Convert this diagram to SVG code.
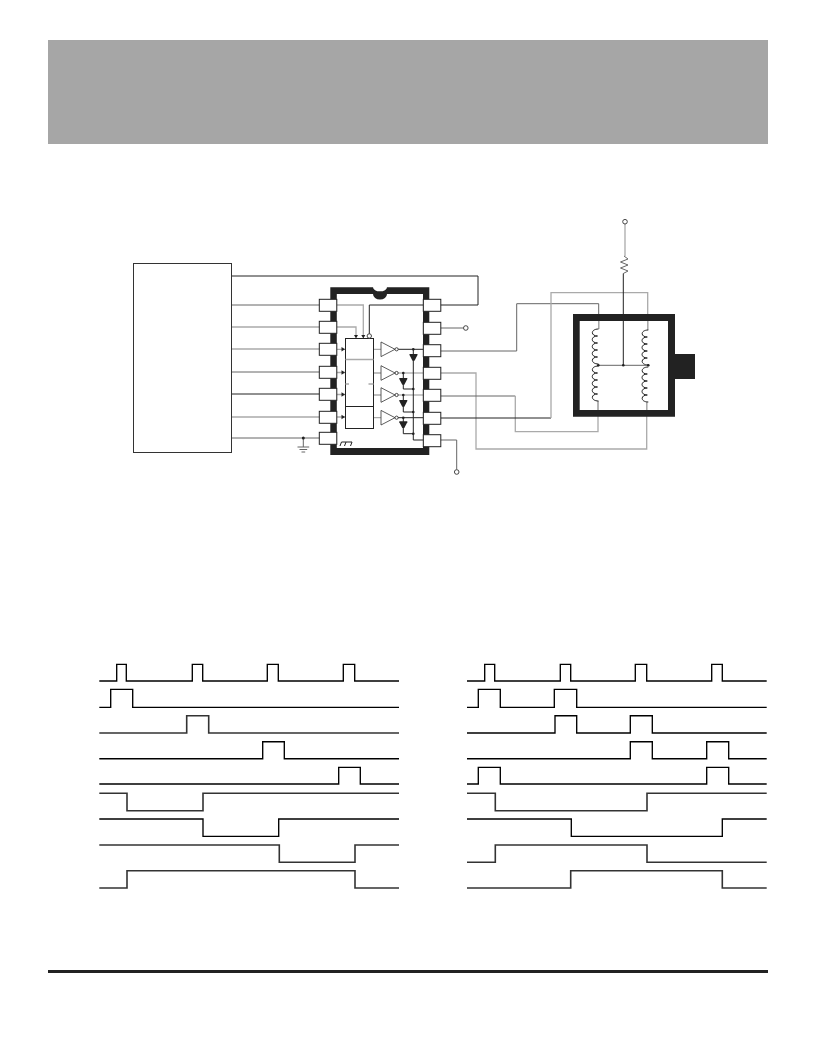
<svg xmlns="http://www.w3.org/2000/svg" width="816" height="1056" viewBox="0 0 816 1056">
<style>
.w{fill:none;stroke:#222;stroke-width:1}
.g{fill:none;stroke:#aaa;stroke-width:1.3}
.m{fill:none;stroke:#666;stroke-width:1}
.t{fill:none;stroke:#000;stroke-width:1.35}
.tg{fill:none;stroke:#333;stroke-width:1.6}
.pin{fill:#fff;stroke:#222;stroke-width:1}
.o{fill:#fff;stroke:#333;stroke-width:.9}
.d{fill:#222}
.k{fill:#222;stroke:none}
.inv{fill:#fff;stroke:#333;stroke-width:.8}
</style>
<defs>
<g id="diode"><path class="k" d="M-4 -3.500H4V-2.400L1 3.300H-1L-4 -2.400Z"/></g>
<g id="inverter"><path class="inv" d="M0 -7.300L14 0L0 7.300Z"/><circle class="o" cx="15.600" cy="0" r="1.600"/></g>
<path id="coil" class="w" d="M0 0c-8 0-8 7-1 7c-7 0-7 7 0 7c-7 0-7 7 0 7c-7 0-7 7 0 7c-7 0-7 7 1 7"/>
<path id="arrowIn" class="k" d="M-2.500 -2.200L1 0L-2.500 2.200Z"/>
</defs>
<g id="banner"><rect x="48" y="40" width="720" height="104" fill="#a6a6a6"/></g>
<g id="footer-rule"><rect x="48" y="970" width="720" height="3" fill="#222"/></g>

<g id="connectors">
<path class="w" d="M232 276H478V305H440"/>
<path class="m" d="M232 305H320"/>
<path class="g" d="M232 327H320"/>
<path class="g" d="M232 349H320"/>
<path class="m" d="M232 372H320"/>
<path class="w" d="M232 394H320"/>
<path class="g" d="M232 417H320"/>
<path class="m" d="M232 438H320"/>
<path class="g" d="M337 305H363.300V336"/>
<path class="g" d="M337 327H356V336"/>
<path class="w" d="M423 305H369.300V334"/>
<path class="g" d="M337 349.300H345M337 372.500H345M337 394.500H345M337 417H345"/>
<path class="g" d="M373.300 349.300H381M373.300 373H381M373.300 395H381M373.300 417.700H381"/>
<path class="w" d="M398 349.300H423"/>
<path class="g" d="M398 373H423"/>
<path class="g" d="M398 395H423"/>
<path class="w" d="M398 417.700H423"/>
<path class="w" d="M413.300 349.300V440H423"/>
<path class="w" d="M403.300 373V389H413.300M403.300 395V412H413.300M403.300 417.700V433.700H413.300"/>
<path class="m" d="M440 328H463.500"/>
<path class="m" d="M440 440H456.700V469.500"/>
<path class="m" d="M440 351H516.700V303.700H598.700V329"/>
<path class="g" d="M440 373H476V449H646.700V402"/>
<path class="m" d="M440 396H515.300"/>
<path class="g" d="M515.300 396V431.700H598V401"/>
<path class="w" d="M440 418H551"/>
<path class="g" d="M551 418V292.700H647.700V330"/>
<path class="g" d="M625 224V256"/>
<path class="m" d="M624 256L628 259L620.500 262L628 265L620.500 268L628 271L623.300 273.500"/>
<path class="w" d="M623.300 273.500V314"/>
</g>

<g id="controller"><rect x="133.500" y="263.500" width="98" height="189" fill="#fff" stroke="#333"/></g>

<g id="ic">
<path class="k" fill-rule="evenodd" d="M330.300 287.300H373A7 4 0 0 0 387 287.300H429.300V455H330.300ZM336.800 294H373A7 5.500 0 0 0 387 294H423V448H336.800Z"/>
<g>
<rect class="pin" x="319.300" y="299.300" width="17.500" height="12"/>
<rect class="pin" x="319.300" y="321.300" width="17.500" height="12"/>
<rect class="pin" x="319.300" y="343.300" width="17.500" height="12"/>
<rect class="pin" x="319.300" y="366.300" width="17.500" height="12"/>
<rect class="pin" x="319.300" y="388.300" width="17.500" height="12"/>
<rect class="pin" x="319.300" y="411.300" width="17.500" height="12"/>
<rect class="pin" x="319.300" y="432.300" width="17.500" height="12"/>
<rect class="pin" x="423.300" y="299.300" width="17.500" height="12"/>
<rect class="pin" x="423.300" y="322.300" width="17.500" height="12"/>
<rect class="pin" x="423.300" y="344.700" width="17.500" height="12"/>
<rect class="pin" x="423.300" y="367.300" width="17.500" height="12"/>
<rect class="pin" x="423.300" y="389.300" width="17.500" height="12"/>
<rect class="pin" x="423.300" y="412.300" width="17.500" height="12"/>
<rect class="pin" x="423.300" y="434.700" width="17.500" height="12"/>
</g>
<rect x="345.500" y="338.500" width="28" height="90" fill="#fff" stroke="#222"/>
<path class="w" d="M345.500 406.500H373.500"/>
<path class="g" d="M345.500 359.500H373.500M345.500 384H349M368.500 384H373.500"/>
<use href="#arrowIn" x="344" y="349.300"/><use href="#arrowIn" x="344" y="372.500"/><use href="#arrowIn" x="344" y="394.500"/><use href="#arrowIn" x="344" y="417"/>
<path class="k" d="M354 335H358L356 338.500ZM361.300 335H365.300L363.300 338.500Z"/>
<circle class="o" cx="369.300" cy="336" r="2.200"/>
<use href="#inverter" x="381" y="349.300"/><use href="#inverter" x="381" y="373"/><use href="#inverter" x="381" y="395"/><use href="#inverter" x="381" y="417.700"/>
<use href="#diode" x="413.500" y="357.500"/><use href="#diode" x="403.300" y="381.500"/><use href="#diode" x="403.300" y="403.500"/><use href="#diode" x="403.300" y="424.700"/>
<g class="d"><circle cx="413.300" cy="349.300" r="1.300"/><circle cx="403.300" cy="373" r="1.300"/><circle cx="403.300" cy="395" r="1.300"/><circle cx="403.300" cy="417.700" r="1.300"/><circle cx="413.300" cy="389" r="1.300"/><circle cx="413.300" cy="412" r="1.300"/><circle cx="413.300" cy="433.700" r="1.300"/></g>
<path class="w" d="M340 446L341.500 442H346L344.500 446M346 442H352L350.500 446"/>
</g>

<g id="ground"><path class="m" d="M303.300 438V447M297.500 447H309.200M299.500 449.500H307.200M301.500 452H305.200"/><circle class="d" cx="303.300" cy="438" r="1.500"/></g>
<g id="terminal-vcc1"><circle class="o" cx="465.800" cy="328" r="2.300"/></g>
<g id="terminal-vcc2"><circle class="o" cx="456.700" cy="472" r="2.300"/></g>
<g id="terminal-vm"><circle class="o" cx="625" cy="221.700" r="2.300"/></g>

<g id="motor">
<path class="k" fill-rule="evenodd" d="M573 314H675V354H695V379H675V416.700H573ZM579.700 321V410H668V321Z"/>
<path class="g" d="M598.700 321V329M647.700 321V330M598 401V410M646.700 402V410"/>
<use href="#coil" x="598.500" y="329"/><use href="#coil" x="598.500" y="366"/>
<use href="#coil" x="648.300" y="330"/><use href="#coil" x="648.300" y="367"/>
<path class="m" d="M598.300 365.300H648.300"/>
<path class="w" d="M623.300 321V365.300"/>
<g class="d"><circle cx="598.300" cy="365.300" r="1.300"/><circle cx="623.300" cy="365.300" r="1.300"/><circle cx="648.300" cy="365.300" r="1.300"/></g>
</g>

<g id="timing-left">
<path class="t" d="M99.300 681H116.700V664.300H126.300V681H192.300V664.300H202.700V681H267.300V664.300H278.300V681H343.300V664.300H354.700V681H399"/>
<path class="t" d="M99.300 707.300H110.700V689.300H132.700V707.300H399"/>
<path class="tg" d="M99.300 733H186.700V715.700H208.700V733H399"/>
<path class="t" d="M99.300 758.700H262.700V741.700H284.300V758.700H399"/>
<path class="t" d="M99.300 784H338.700V767.300H360.300V784H399"/>
<path class="tg" d="M99.300 793.300H127V810.700H203V793.300H399"/>
<path class="t" d="M99.300 819H203V836.300H278.700V819H399"/>
<path class="tg" d="M99.300 845H279.300V862.300H355V845H399"/>
<path class="tg" d="M99.300 888H127V870.700H355V888H399"/>
</g>
<g id="timing-right">
<path class="t" d="M467 681H484.700V664.300H494.700V681H560.300V664.300H570.700V681H635.300V664.300H646.700V681H711.700V664.300H722.300V681H766.700"/>
<path class="t" d="M467 707.300H478.300V689.300H500.300V707.300H554.300V689.300H576.700V707.300H766.700"/>
<path class="t" d="M467 733H555V715.700H576.700V733H630.300V715.700H652.300V733H766.700"/>
<path class="t" d="M467 758.700H630.300V741.700H652.300V758.700H706.700V741.700H728.700V758.700H766.700"/>
<path class="t" d="M467 784H478.300V767.300H500.300V784H706.700V767.300H728.700V784H766.700"/>
<path class="tg" d="M467 793.300H495.300V810.700H647V793.300H766.700"/>
<path class="t" d="M467 819H571.300V836.300H722.300V819H766.700"/>
<path class="tg" d="M467 862.300H495.300V845H647V862.300H766.700"/>
<path class="tg" d="M467 888H570.700V870.700H722.300V888H766.700"/>
</g>
</svg>
